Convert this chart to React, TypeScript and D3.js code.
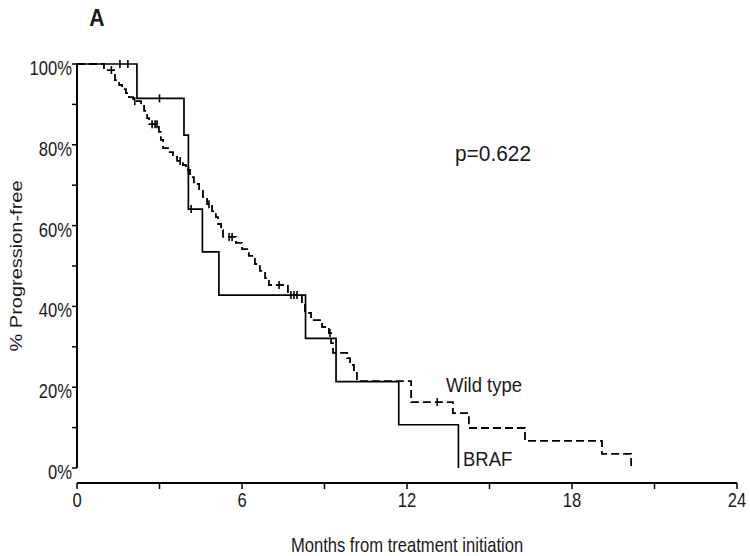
import React from "react";
import * as d3 from "d3";

const brafTimes = [2.18, 3.89, 4.05, 4.56, 5.16, 8.31, 9.42, 11.7, 13.87];
const brafSurv = [91.5, 82.4, 64.1, 53.5, 42.8, 32.1, 21.4, 10.7, 0];
const brafCensor = [1.56, 1.85, 3.0, 4.15];

const wtTimes = [
  0.98, 1.38, 1.53, 1.64, 1.78, 1.89, 2.04, 2.33, 2.44, 2.55, 2.62, 2.98, 3.05, 3.13, 3.31, 3.49,
  3.64, 3.85, 3.96, 4.11, 4.25, 4.44, 4.58, 4.73, 4.91, 5.05, 5.13, 5.24, 5.31, 5.78, 6.0, 6.25,
  6.47, 6.65, 6.84, 6.98, 7.67, 8.18, 8.29, 8.51, 8.91, 9.16, 9.24, 9.31, 9.82, 9.93, 10.07, 10.18,
  12.15, 13.67, 14.25, 16.29, 19.09, 20.15,
];
const wtSurv = [
  98.5, 96.0, 94.8, 93.8, 92.8, 91.8, 90.8, 89.9, 88.4, 86.6, 85.1, 83.2, 81.2, 79.2, 78.2, 77.0,
  76.0, 75.0, 73.8, 72.0, 70.3, 68.6, 67.1, 65.3, 63.6, 62.1, 60.4, 58.9, 57.2, 55.7, 54.2, 52.5,
  50.5, 48.8, 47.0, 45.3, 42.8, 40.8, 38.4, 36.6, 34.9, 33.4, 30.9, 28.5, 27.2, 25.5, 23.8, 21.5,
  16.3, 13.6, 9.9, 6.7, 3.5, 0,
];
const wtCensor = [1.25, 2.1, 2.73, 2.84, 2.91, 3.75, 4.05, 4.8, 5.53, 5.64, 7.35, 7.78, 7.89, 8.0, 9.2, 13.1];

const xTickValues = [0, 3, 6, 9, 12, 15, 18, 21, 24];
const xTickLabels = ["0", "", "6", "", "12", "", "18", "", "24"];
const yTickValues = [0, 10, 20, 30, 40, 50, 60, 70, 80, 90, 100];
const yTickLabels = ["0%", "", "20%", "", "40%", "", "60%", "", "80%", "", "100%"];

const FONT = "'Liberation Sans', Arial, sans-serif";
const SQ = 0.83;

function survAt(times: number[], surv: number[], t: number) {
  let v = 100;
  for (let i = 0; i < times.length; i++) if (times[i] <= t) v = surv[i];
  return v;
}

function T(props: {
  x: number;
  y: number;
  size: number;
  sx?: number;
  anchor?: string;
  weight?: string;
  children: React.ReactNode;
}) {
  const sx = props.sx ?? SQ;
  return (
    <text
      transform={`translate(${props.x},${props.y}) scale(${sx},1)`}
      fontSize={props.size}
      fontWeight={props.weight}
      textAnchor={props.anchor ?? "start"}
      fill="#1a1a1a"
    >
      {props.children}
    </text>
  );
}

export default function App() {
  const W = 750,
    H = 556;
  const x = d3.scaleLinear().domain([0, 24]).range([77, 737]);
  const y = d3.scaleLinear().domain([0, 100]).range([468, 64]);
  const axisY = 483;

  const line = d3
    .line<[number, number]>()
    .x((d) => x(d[0]))
    .y((d) => y(d[1]))
    .curve(d3.curveStepAfter);

  const brafPts: [number, number][] = [[0, 100], ...brafTimes.map((t, i) => [t, brafSurv[i]] as [number, number])];
  const wtPts: [number, number][] = [[0, 100], ...wtTimes.map((t, i) => [t, wtSurv[i]] as [number, number])];

  return (
    <svg width={W} height={H} style={{ position: "absolute", left: 0, top: 0, background: "#fff" }} fontFamily={FONT}>
      <rect x={0} y={0} width={W} height={H} fill="#fff" />
      <T x={97} y={26} size={23} sx={0.92} weight="bold" anchor="middle">A</T>

      {/* y axis */}
      <line x1={77} x2={77} y1={y(100)} y2={y(0)} stroke="#000" strokeWidth={2} />
      {yTickValues.map((v, i) => (
        <g key={"yt" + v}>
          <line x1={72} x2={77} y1={y(v)} y2={y(v)} stroke="#000" strokeWidth={1.5} />
          {yTickLabels[i] && (
            <T x={72} y={y(v) + 11} size={20} anchor="end">
              {yTickLabels[i]}
            </T>
          )}
        </g>
      ))}
      <text
        transform={`translate(22,${(y(0) + y(100)) / 2}) scale(${SQ},1) rotate(-90)`}
        fontSize={20}
        textAnchor="middle"
        fill="#1a1a1a"
      >
        % Progression-free
      </text>

      {/* x axis */}
      <line x1={x(0)} x2={x(24)} y1={axisY} y2={axisY} stroke="#000" strokeWidth={2} />
      {xTickValues.map((v, i) => (
        <g key={"xt" + v}>
          <line x1={x(v)} x2={x(v)} y1={axisY} y2={axisY + 6} stroke="#000" strokeWidth={1.5} />
          {xTickLabels[i] && (
            <T x={x(v)} y={axisY + 24} size={20} anchor="middle">
              {xTickLabels[i]}
            </T>
          )}
        </g>
      ))}
      <T x={x(12)} y={552} size={20} anchor="middle">
        Months from treatment initiation
      </T>

      {/* curves */}
      <path d={line(wtPts) || ""} fill="none" stroke="#000" strokeWidth={1.8} strokeDasharray="8,4" />
      <path d={line(brafPts) || ""} fill="none" stroke="#000" strokeWidth={1.7} />

      {wtCensor.map((t, i) => {
        const v = survAt(wtTimes, wtSurv, t);
        return <line key={"wc" + i} x1={x(t)} x2={x(t)} y1={y(v) - 4} y2={y(v) + 4} stroke="#000" strokeWidth={1.6} />;
      })}
      {brafCensor.map((t, i) => {
        const v = survAt(brafTimes, brafSurv, t);
        return <line key={"bc" + i} x1={x(t)} x2={x(t)} y1={y(v) - 4} y2={y(v) + 4} stroke="#000" strokeWidth={1.6} />;
      })}

      <T x={455} y={161} size={22} sx={0.95}>p=0.622</T>
      <T x={446} y={392} size={21} sx={0.88}>Wild type</T>
      <T x={463} y={466} size={21} sx={0.88}>BRAF</T>
    </svg>
  );
}
